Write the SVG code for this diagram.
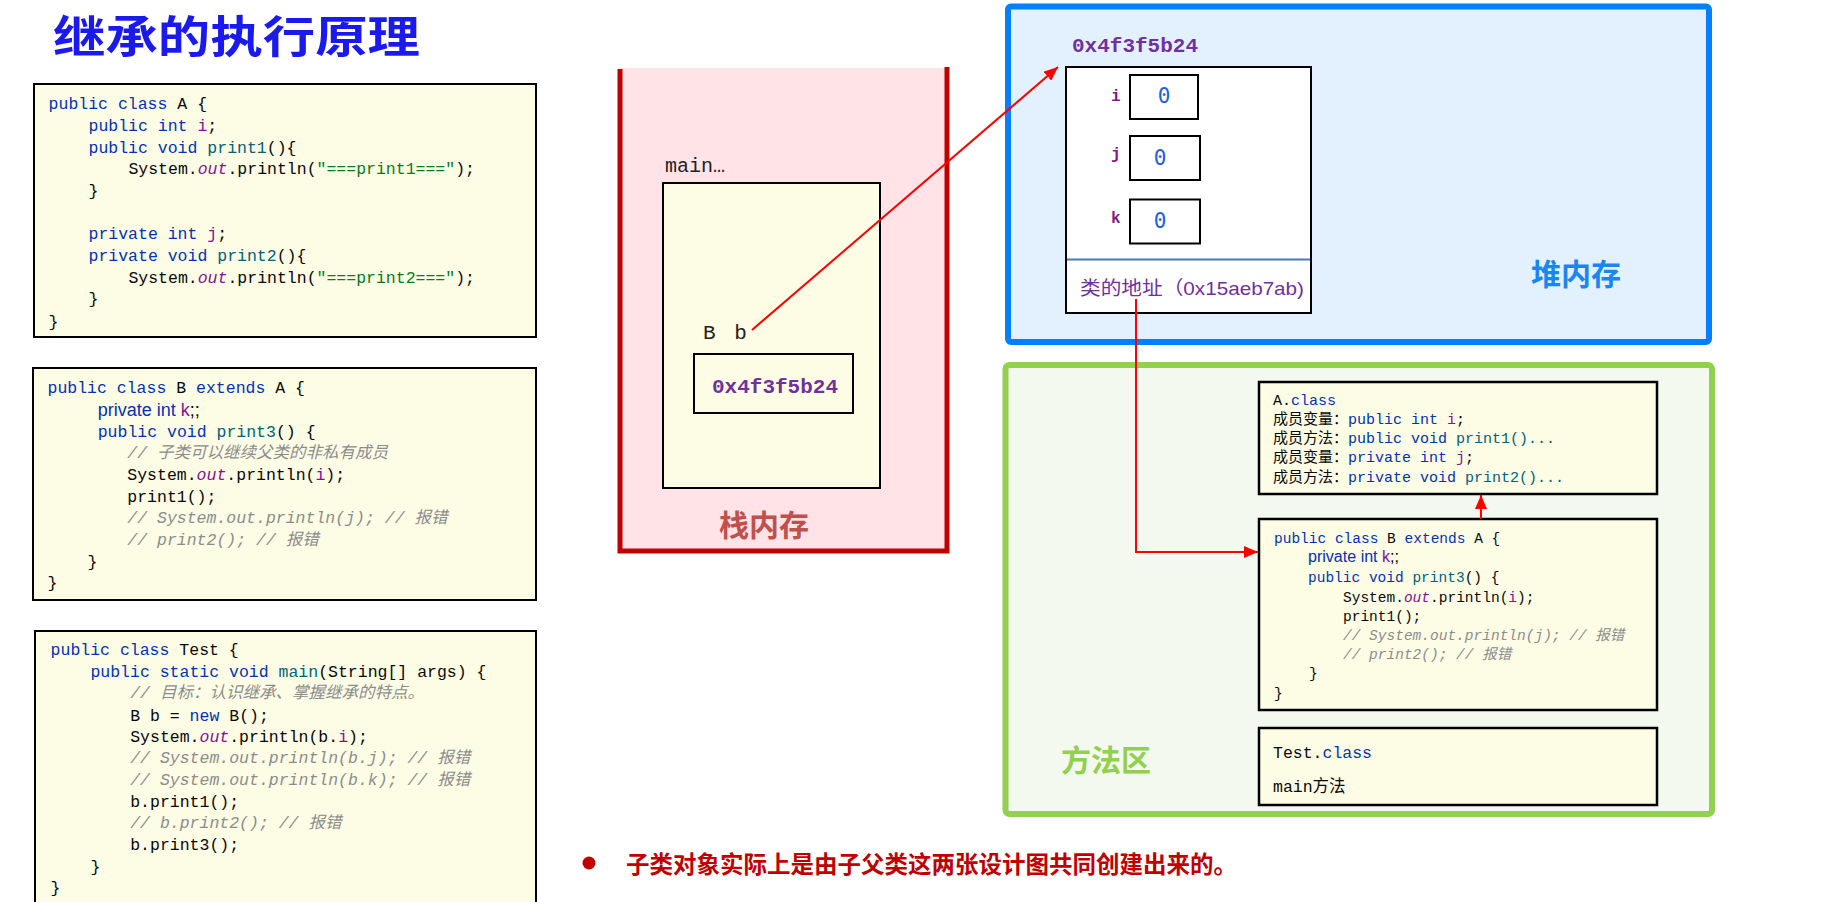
<svg xmlns="http://www.w3.org/2000/svg" width="1843" height="902" viewBox="0 0 1843 902">
<defs>
<style>
.code{font-family:"Liberation Mono","Noto Sans CJK SC",monospace;font-size:16.5px;fill:#080808}
.sm{font-size:14.5px}
.sm2{font-size:15px}
.kw{fill:#0033b3}
.fn{fill:#00627a}
.fld{fill:#871094}
.fo{fill:#871094;font-style:italic}
.st{fill:#067d17}
.cm{fill:#8c8c8c;font-style:italic}
.prop{font-family:"Liberation Sans","Noto Sans CJK SC",sans-serif}
.box{fill:#fdfde6;stroke:#000;stroke-width:2}
.big{font-family:"Noto Sans CJK SC",sans-serif;font-weight:bold;font-size:30px}
.addr{font-family:"Liberation Mono",monospace;font-weight:bold;font-size:21px;fill:#7030a0}
.fldlbl{font-family:"Liberation Mono",monospace;font-weight:bold;font-size:16px;fill:#7f1a8a}
.zero{font-family:"DejaVu Sans Mono",monospace;font-size:21px;fill:#1f5fe0}
.conn{fill:none;stroke:#ff0000;stroke-width:2}
</style>
<marker id="ah" markerUnits="userSpaceOnUse" markerWidth="14" markerHeight="12" viewBox="0 0 14 12" refX="14" refY="6" orient="auto">
<path d="M0,0 L14,6 L0,12 Z" fill="#ff0000"/>
</marker>
</defs>
<rect width="1843" height="902" fill="#ffffff"/>

<g id="title">
<text x="53" y="53" font-family="Noto Sans CJK SC,sans-serif" font-weight="bold" font-size="44" fill="#1a1aef" textLength="367" lengthAdjust="spacingAndGlyphs">继承的执行原理</text>
</g>

<g id="codeA">
<rect class="box" x="34" y="84" width="502" height="253"/>
<text class="code" x="48.6" y="109"><tspan class="kw">public class</tspan> A {</text>
<text class="code" x="88.5" y="131"><tspan class="kw">public int</tspan> <tspan class="fld">i</tspan>;</text>
<text class="code" x="88.5" y="153"><tspan class="kw">public void</tspan> <tspan class="fn">print1</tspan>(){</text>
<text class="code" x="128.4" y="174">System.<tspan class="fo">out</tspan>.println(<tspan class="st">"===print1==="</tspan>);</text>
<text class="code" x="88.5" y="196">}</text>
<text class="code" x="88.5" y="239"><tspan class="kw">private int</tspan> <tspan class="fld">j</tspan>;</text>
<text class="code" x="88.5" y="261"><tspan class="kw">private void</tspan> <tspan class="fn">print2</tspan>(){</text>
<text class="code" x="128.4" y="283">System.<tspan class="fo">out</tspan>.println(<tspan class="st">"===print2==="</tspan>);</text>
<text class="code" x="88.5" y="304">}</text>
<text class="code" x="48.6" y="327">}</text>
</g>

<g id="codeB">
<rect class="box" x="33" y="368" width="503" height="232"/>
<text class="code" x="47.5" y="393"><tspan class="kw">public class</tspan> B <tspan class="kw">extends</tspan> A {</text>
<text class="prop" x="97.7" y="416" font-size="18" textLength="102" lengthAdjust="spacingAndGlyphs"><tspan class="kw">private int</tspan> <tspan class="fld">k</tspan>;;</text>
<text class="code" x="97.7" y="437"><tspan class="kw">public void</tspan> <tspan class="fn">print3</tspan>() {</text>
<text class="code cm" x="127.3" y="458">// 子类可以继续父类的非私有成员</text>
<text class="code" x="127.3" y="480">System.<tspan class="fo">out</tspan>.println(<tspan class="fld">i</tspan>);</text>
<text class="code" x="127.3" y="502">print1();</text>
<text class="code cm" x="127.3" y="523">// System.out.println(j); // 报错</text>
<text class="code cm" x="127.3" y="545">// print2(); // 报错</text>
<text class="code" x="87.5" y="567">}</text>
<text class="code" x="47.5" y="588">}</text>
</g>

<g id="codeTest">
<rect class="box" x="35" y="631" width="501" height="290"/>
<text class="code" x="50.6" y="655"><tspan class="kw">public class</tspan> Test {</text>
<text class="code" x="90.4" y="677"><tspan class="kw">public static void</tspan> <tspan class="fn">main</tspan>(String[] args) {</text>
<text class="code cm" x="130.2" y="698">// 目标：认识继承、掌握继承的特点。</text>
<text class="code" x="130.2" y="721">B b = <tspan class="kw">new</tspan> B();</text>
<text class="code" x="130.2" y="742">System.<tspan class="fo">out</tspan>.println(b.<tspan class="fld">i</tspan>);</text>
<text class="code cm" x="130.2" y="763">// System.out.println(b.j); // 报错</text>
<text class="code cm" x="130.2" y="785">// System.out.println(b.k); // 报错</text>
<text class="code" x="130.2" y="807">b.print1();</text>
<text class="code cm" x="130.2" y="828">// b.print2(); // 报错</text>
<text class="code" x="130.2" y="850">b.print3();</text>
<text class="code" x="90.4" y="872">}</text>
<text class="code" x="50.6" y="893">}</text>
</g>

<g id="stack">
<rect x="620" y="68" width="328" height="484" fill="#ffe3e6"/>
<path d="M620,69 V551 H947 V67" fill="none" stroke="#c00000" stroke-width="5"/>
<text x="665" y="172" font-family="Liberation Mono,monospace" font-size="20" fill="#222">main…</text>
<rect class="box" x="663" y="183" width="217" height="305"/>
<text x="703" y="339" font-family="Liberation Mono,monospace" font-size="21" fill="#222" word-spacing="6">B b</text>
<rect x="694" y="354" width="159" height="59" fill="none" stroke="#000" stroke-width="2"/>
<text class="addr" x="712" y="393">0x4f3f5b24</text>
<text class="big" x="719" y="536" fill="#c0504d">栈内存</text>
</g>

<g id="heap">
<rect x="1008" y="6.5" width="701" height="335.5" rx="3" fill="#e3f1fe" stroke="#0080ff" stroke-width="6"/>
<text class="addr" x="1072" y="52">0x4f3f5b24</text>
<rect x="1066" y="67" width="245" height="246" fill="#ffffff" stroke="#000" stroke-width="2"/>
<line x1="1067" y1="259.5" x2="1310" y2="259.5" stroke="#4a7ab5" stroke-width="2"/>
<text class="fldlbl" x="1111" y="101">i</text>
<rect x="1130" y="75" width="68" height="44" fill="#fff" stroke="#000" stroke-width="2"/>
<text class="zero" x="1164" y="103" text-anchor="middle">0</text>
<text class="fldlbl" x="1111" y="159">j</text>
<rect x="1130" y="136" width="70" height="44" fill="#fff" stroke="#000" stroke-width="2"/>
<text class="zero" x="1160" y="165" text-anchor="middle">0</text>
<text class="fldlbl" x="1111" y="223">k</text>
<rect x="1130" y="199.5" width="70" height="44" fill="#fff" stroke="#000" stroke-width="2"/>
<text class="zero" x="1160" y="228" text-anchor="middle">0</text>
<text x="1080" y="295" font-family="Liberation Sans,Noto Sans CJK SC,sans-serif" font-size="19" fill="#7030a0" textLength="224" lengthAdjust="spacingAndGlyphs">类的地址（0x15aeb7ab)</text>
<text class="big" x="1531" y="285" fill="#1a86f0">堆内存</text>
</g>

<g id="methodArea">
<rect x="1005.5" y="365" width="706.5" height="449" rx="4" fill="#f3f9ef" stroke="#92d050" stroke-width="6"/>
<text class="big" x="1061" y="771" fill="#92d050">方法区</text>
</g>

<g id="classA">
<rect x="1259" y="382" width="398" height="112" fill="#fdfde6" stroke="#000" stroke-width="2.5"/>
<text class="code sm2" x="1273" y="405">A.<tspan class="kw">class</tspan></text>
<text class="code sm2" x="1273" y="424">成员变量：<tspan class="kw">public int</tspan> <tspan class="fld">i</tspan>;</text>
<text class="code sm2" x="1273" y="443">成员方法：<tspan class="kw">public void</tspan> <tspan class="fn">print1()...</tspan></text>
<text class="code sm2" x="1273" y="462">成员变量：<tspan class="kw">private int</tspan> <tspan class="fld">j</tspan>;</text>
<text class="code sm2" x="1273" y="482">成员方法：<tspan class="kw">private void</tspan> <tspan class="fn">print2()...</tspan></text>
</g>

<g id="classB">
<rect x="1259" y="519" width="398" height="191" fill="#fdfde6" stroke="#000" stroke-width="2.5"/>
<text class="code sm" x="1274" y="543"><tspan class="kw">public class</tspan> B <tspan class="kw">extends</tspan> A {</text>
<text class="prop" x="1308" y="562" font-size="16" textLength="91" lengthAdjust="spacingAndGlyphs"><tspan class="kw">private int</tspan> <tspan class="fld">k</tspan>;;</text>
<text class="code sm" x="1308" y="582"><tspan class="kw">public void</tspan> <tspan class="fn">print3</tspan>() {</text>
<text class="code sm" x="1343" y="602">System.<tspan class="fo">out</tspan>.println(<tspan class="fld">i</tspan>);</text>
<text class="code sm" x="1343" y="621">print1();</text>
<text class="code sm cm" x="1343" y="640">// System.out.println(j); // 报错</text>
<text class="code sm cm" x="1343" y="659">// print2(); // 报错</text>
<text class="code sm" x="1309" y="678">}</text>
<text class="code sm" x="1274" y="698">}</text>
</g>

<g id="classTest">
<rect x="1259" y="728" width="398" height="77" fill="#fdfde6" stroke="#000" stroke-width="2.5"/>
<text class="code" x="1273" y="758">Test.<tspan class="kw">class</tspan></text>
<text class="code" x="1273" y="792">main方法</text>
</g>

<g id="note">
<circle cx="589" cy="863" r="6.5" fill="#c00000"/>
<text x="626" y="873" font-family="Noto Sans CJK SC,sans-serif" font-weight="bold" font-size="23.5" fill="#c00000">子类对象实际上是由子父类这两张设计图共同创建出来的。</text>
</g>

<g id="connectors">
<line class="conn" x1="752" y1="330" x2="1058" y2="67" marker-end="url(#ah)"/>
<polyline class="conn" points="1136,299 1136,552 1258,552" marker-end="url(#ah)"/>
<line class="conn" x1="1481" y1="519" x2="1481" y2="495" marker-end="url(#ah)"/>
</g>
</svg>
